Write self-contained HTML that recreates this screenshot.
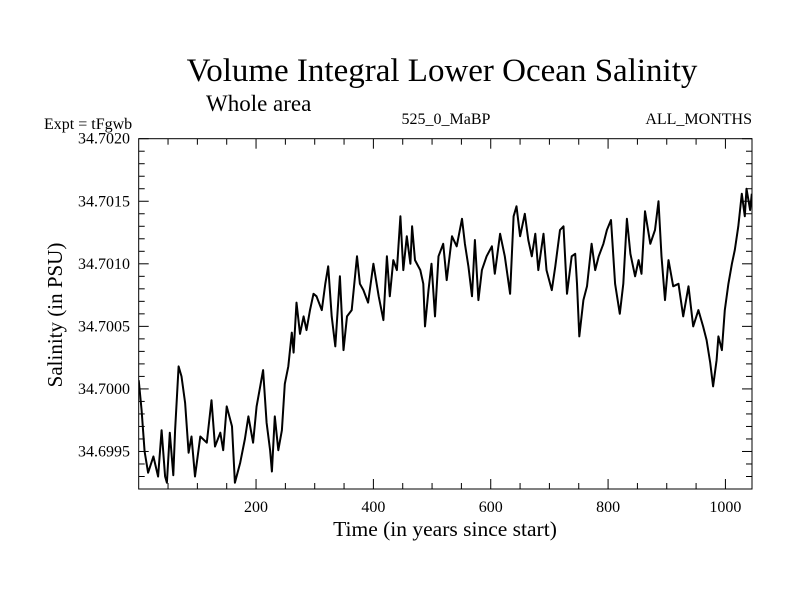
<!DOCTYPE html>
<html><head><meta charset="utf-8"><style>
body{margin:0;background:#fff;width:800px;height:600px;overflow:hidden}
svg text{font-family:"Liberation Serif",serif;fill:#000}
</style></head><body>
<svg id="chart" width="800" height="600" xmlns="http://www.w3.org/2000/svg">
<defs><clipPath id="pc"><rect x="138.7" y="138.7" width="613.3" height="350.3"/></clipPath></defs>
<text x="442" y="81" font-size="33" text-anchor="middle">Volume Integral Lower Ocean Salinity</text>
<text x="206" y="111" font-size="23">Whole area</text>
<text x="44" y="129" font-size="16">Expt = tFgwb</text>
<text x="446" y="124" font-size="16" text-anchor="middle">525_0_MaBP</text>
<text x="752" y="124" font-size="16" text-anchor="end">ALL_MONTHS</text>
<text x="445" y="536" font-size="21.5" text-anchor="middle">Time (in years since start)</text>
<text transform="translate(62,315) rotate(-90)" font-size="21" text-anchor="middle">Salinity (in PSU)</text>
<g id="axes"></g>
<path id="series" clip-path="url(#pc)" fill="none" stroke="#000" stroke-width="2" stroke-linejoin="round"/>
<rect x="138.7" y="138.7" width="613.3" height="350.3" fill="none" stroke="#000" stroke-width="1"/>
</svg>
<script>
const years=[0,5,10,16,25,33,39,45,48,53,59,62,68,73,79,85,90,96,105,116,124,130,139,144,150,159,164,173,181,187,195,201,207,212,218,224,227,232,238,244,249,255,261,264,269,275,281,286,292,298,303,312,318,323,329,335,343,349,355,363,372,377,383,391,400,409,417,423,428,434,440,446,451,457,463,466,471,480,485,488,494,499,505,511,519,525,534,542,551,556,562,568,573,579,585,593,602,607,616,624,633,639,644,650,658,664,670,676,681,690,695,704,710,718,724,730,738,744,747,751,758,764,772,778,784,792,798,805,812,820,826,832,838,846,852,857,863,872,880,886,891,897,903,911,920,928,937,945,954,962,968,974,979,985,988,994,999,1005,1011,1016,1022,1028,1033,1036,1042,1045];
const salinity=[34.70007,34.69983,34.6995,34.69933,34.69946,34.6993,34.69967,34.6993,34.69925,34.69965,34.69931,34.69967,34.70018,34.7001,34.69989,34.69949,34.69962,34.6993,34.69962,34.69957,34.69991,34.69954,34.69965,34.69951,34.69986,34.6997,34.69925,34.69941,34.6996,34.69978,34.69957,34.69986,34.70002,34.70015,34.69973,34.69951,34.69934,34.69978,34.69951,34.69967,34.70004,34.70018,34.70045,34.70029,34.70069,34.70044,34.70058,34.70047,34.70063,34.70076,34.70074,34.70063,34.70084,34.70098,34.70058,34.70034,34.7009,34.70031,34.70058,34.70063,34.70106,34.70084,34.70079,34.70069,34.701,34.70074,34.70055,34.70106,34.70074,34.70103,34.70095,34.70138,34.70095,34.70122,34.701,34.7013,34.70103,34.70095,34.70084,34.7005,34.70079,34.701,34.70058,34.70106,34.70116,34.70087,34.70122,34.70114,34.70136,34.70116,34.70098,34.70074,34.70119,34.70071,34.70095,34.70106,34.70114,34.70092,34.70124,34.70106,34.70076,34.70138,34.70146,34.70122,34.7014,34.70119,34.70106,34.70124,34.70095,34.70124,34.70095,34.70079,34.70098,34.70127,34.7013,34.70076,34.70106,34.70108,34.70084,34.70042,34.70071,34.70082,34.70116,34.70095,34.70106,34.70116,34.70127,34.70135,34.70084,34.7006,34.70084,34.70136,34.70108,34.7009,34.70103,34.70092,34.70142,34.70116,34.70127,34.7015,34.70106,34.70071,34.70103,34.70082,34.70084,34.70058,34.70082,34.7005,34.70063,34.7005,34.70039,34.70021,34.70002,34.70023,34.70042,34.70031,34.70063,34.70084,34.701,34.70111,34.7013,34.70156,34.70138,34.7016,34.70143,34.70156];
const xTicks=[200,400,600,800,1000];
const yTicks=[34.6995,34.7000,34.7005,34.7010,34.7015,34.7020];
const L=138.7,R=752,T=138.7,B=489,X0=0,X1=1045.3,Y0=34.69920,Y1=34.7020;
const sx=v=>L+(v-X0)/(X1-X0)*(R-L);
const sy=v=>B-(v-Y0)/(Y1-Y0)*(B-T);
document.getElementById('series').setAttribute('d',years.map((y,i)=>(i?'L':'M')+sx(y).toFixed(1)+','+sy(salinity[i]).toFixed(1)).join(''));
const g=document.getElementById('axes');const NS='http://www.w3.org/2000/svg';
function line(x1,y1,x2,y2,name){const l=document.createElementNS(NS,'line');l.setAttribute('x1',x1);l.setAttribute('y1',y1);l.setAttribute('x2',x2);l.setAttribute('y2',y2);l.setAttribute('stroke','#000');


g.appendChild(l);}
function text(x,y,s,anchor,name){const t=document.createElementNS(NS,'text');t.setAttribute('x',x);t.setAttribute('y',y);t.setAttribute('font-size','16');t.setAttribute('text-anchor',anchor);t.textContent=s;


g.appendChild(t);}
for(let v=50;v<X1;v+=50){const x=sx(v),maj=v%200===0,len=maj?10:6;line(x,B,x,B-len,'x-tick');line(x,T,x,T+len,'x-tick-top');}
xTicks.forEach(v=>text(sx(v),512,String(v),'middle','x-tick-label'));
for(let k=0;k<=28;k++){const v=Y0+k*0.0001;if(v>Y1+1e-9)break;const y=sy(v);const maj=Math.abs((v*10000)%5)<0.01||Math.abs((v*10000)%5-5)<0.01;const len=maj?10:6;line(L,y,L+len,y,'y-tick');line(R,y,R-len,y,'y-tick-right');}
yTicks.forEach(v=>text(130,sy(v)+5,v.toFixed(4),'end','y-tick-label'));
</script>
</body></html>
